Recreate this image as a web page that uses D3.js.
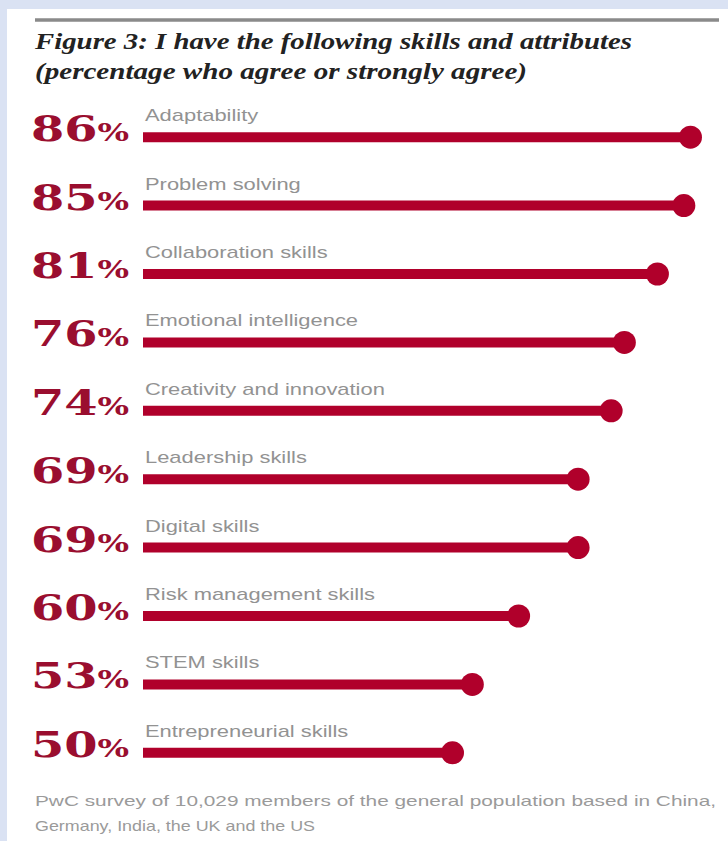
<!DOCTYPE html>
<html>
<head>
<meta charset="utf-8">
<script src="https://cdn.jsdelivr.net/npm/d3@7"></script>
<style>
  html, body { margin: 0; padding: 0; background: #dae2f3; }
  svg { display: block; }
</style>
</head>
<body>
<svg id="chart" width="728" height="841"></svg>
<script>
const categories = ["Adaptability", "Problem solving", "Collaboration skills", "Emotional intelligence",
  "Creativity and innovation", "Leadership skills", "Digital skills", "Risk management skills",
  "STEM skills", "Entrepreneurial skills"];
const values = [86, 85, 81, 76, 74, 69, 69, 60, 53, 50];
const titleLines = ["Figure 3: I have the following skills and attributes",
  "(percentage who agree or strongly agree)"];
const footerLines = ["PwC survey of 10,029 members of the general population based in China,",
  "Germany, India, the UK and the US"];

const svg = d3.select("#chart");
const W = 728, H = 841;
const barColor = "#b0002b";
const numColor = "#9a0e2f";

// white panel
svg.append("rect").attr("x", 7).attr("y", 9).attr("width", W - 7).attr("height", H - 9).attr("fill", "#ffffff");

// top rule
svg.append("line").attr("x1", 35).attr("x2", 719).attr("y1", 20).attr("y2", 20)
  .attr("stroke", "#8a8a8a").attr("stroke-width", 3.5);

// title
const titleW = [597, 492];
titleLines.forEach((t, i) => {
  svg.append("text").attr("x", 35).attr("y", 49 + i * 30)
    .attr("font-family", "'Liberation Serif', serif").attr("font-style", "italic").attr("font-weight", "bold")
    .attr("font-size", 24).attr("fill", "#222")
    .attr("textLength", titleW[i]).attr("lengthAdjust", "spacingAndGlyphs")
    .text(t);
});

const barStart = 143;
const x = d3.scaleLinear().domain([0, 100]).range([122, 783]);
const y = d3.scaleBand().domain(categories).range([103, 787]);
const cy = d => y(d) + y.bandwidth() / 2;

const rows = svg.append("g").selectAll("g").data(categories).join("g");

rows.append("line")
  .attr("x1", barStart).attr("x2", (d, i) => x(values[i]))
  .attr("y1", d => cy(d)).attr("y2", d => cy(d))
  .attr("stroke", barColor).attr("stroke-width", 10);

rows.append("circle")
  .attr("cx", (d, i) => x(values[i])).attr("cy", d => cy(d)).attr("r", 11.5)
  .attr("fill", barColor);

// labels
rows.append("text")
  .attr("transform", d => `translate(${barStart + 2},${cy(d) - 16}) scale(1.37,1)`)
  .attr("font-family", "'Liberation Sans', Arial, sans-serif").attr("font-size", 16)
  .attr("fill", "#929292")
  .text(d => d);

// big numbers
const num = rows.append("text")
  .attr("transform", d => `translate(31,${cy(d) + 4}) scale(1.33,1)`)
  .attr("font-family", "'DejaVu Serif', serif").attr("font-weight", "bold")
  .attr("fill", numColor);
num.append("tspan").attr("font-size", 36).text((d, i) => values[i]);
num.append("tspan").attr("font-size", 25).text("%");

// footer
const footW = [681, 280];
footerLines.forEach((t, i) => {
  svg.append("text").attr("x", 35).attr("y", 806 + i * 25)
    .attr("font-family", "'Liberation Sans', Arial, sans-serif").attr("font-size", 15)
    .attr("fill", "#9a9a9a")
    .attr("textLength", footW[i]).attr("lengthAdjust", "spacingAndGlyphs")
    .text(t);
});
</script>
</body>
</html>
